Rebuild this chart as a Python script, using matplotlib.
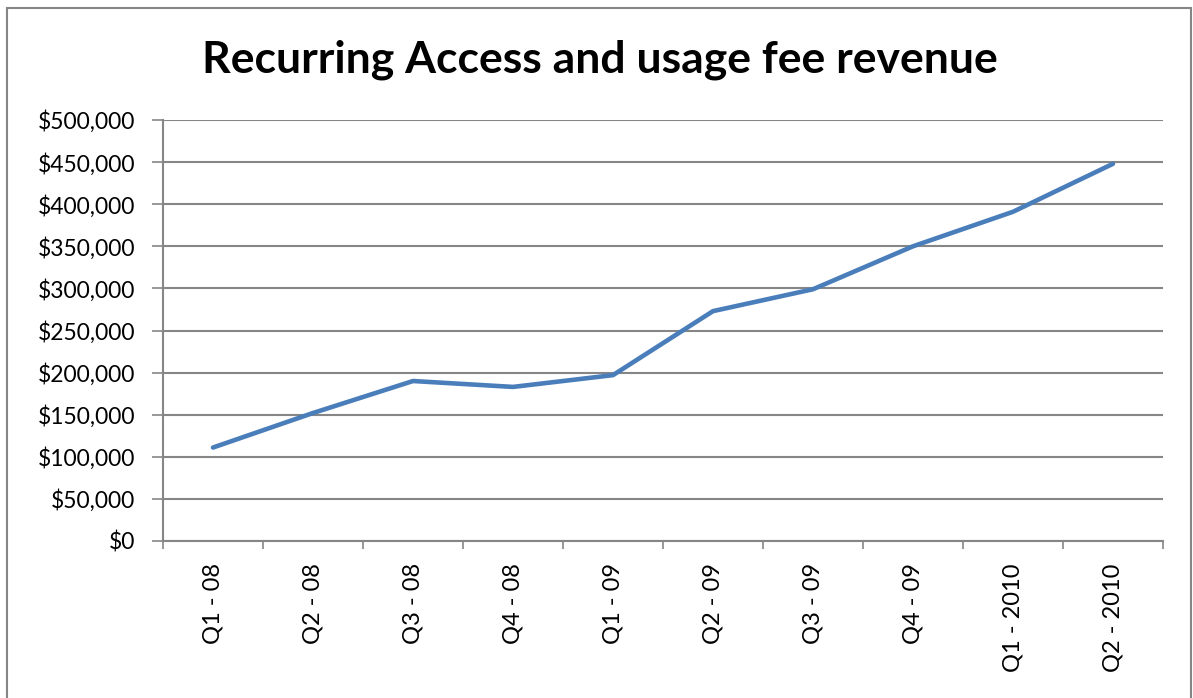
import numpy as np
import matplotlib
matplotlib.use('Agg')
import matplotlib.pyplot as plt
from matplotlib.patches import Rectangle
from matplotlib.ticker import FuncFormatter, FixedLocator

quarters = ['Q1 - 08', 'Q2 - 08', 'Q3 - 08', 'Q4 - 08', 'Q1 - 09',
            'Q2 - 09', 'Q3 - 09', 'Q4 - 09', 'Q1 - 2010', 'Q2 - 2010']
revenue = [111000, 152000, 190000, 183000, 197000,
           273000, 299000, 350000, 391000, 448000]
title = 'Recurring Access and usage fee revenue'

plt.rcParams['font.family'] = ['Lato', 'DejaVu Sans']

W, H = 1193, 698
fig = plt.figure(figsize=(W / 100, H / 100), dpi=100)
ax = fig.add_axes([163 / W, 1 - 541 / H, 1000 / W, 421 / H])

grey = '#868686'
x = np.arange(len(quarters))
ax.plot(x, revenue, color='#4A7EBB', lw=3.3, solid_capstyle='round',
        solid_joinstyle='round', zorder=3)

ax.set_xlim(-0.5, len(quarters) - 0.5)
ax.set_ylim(0, 500000)
ax.set_yticks(np.arange(0, 500001, 50000))
ax.yaxis.set_major_formatter(FuncFormatter(lambda v, p: '${:,.0f}'.format(v)))
ax.grid(axis='y', color=grey, lw=1.5, zorder=1)

ax.xaxis.set_major_locator(FixedLocator(np.arange(-0.5, len(quarters), 1.0)))
ax.xaxis.set_major_formatter(FuncFormatter(lambda v, p: ''))
ax.xaxis.set_minor_locator(FixedLocator(x))
ax.set_xticklabels(quarters, minor=True, rotation=90)
ax.tick_params(axis='x', which='major', length=6, width=1.2, color=grey, direction='out')
ax.tick_params(axis='x', which='minor', length=0, pad=16, labelsize=17)
ax.tick_params(axis='y', length=8, width=1.2, color=grey, labelsize=16.5, pad=12)

for s in ['top', 'right']:
    ax.spines[s].set_visible(False)
for s in ['left', 'bottom']:
    ax.spines[s].set_color(grey)
    ax.spines[s].set_linewidth(1.5)

fig.text(600 / W, 1 - 60 / H, title, ha='center', va='center',
         fontsize=32, fontweight='bold')

fig.patches.append(Rectangle((7 / W, -0.05), 1184 / W, 1.05 - 8 / H,
                             transform=fig.transFigure, fill=False,
                             edgecolor=grey, lw=1.5))

fig.savefig('out.png', dpi=100)
